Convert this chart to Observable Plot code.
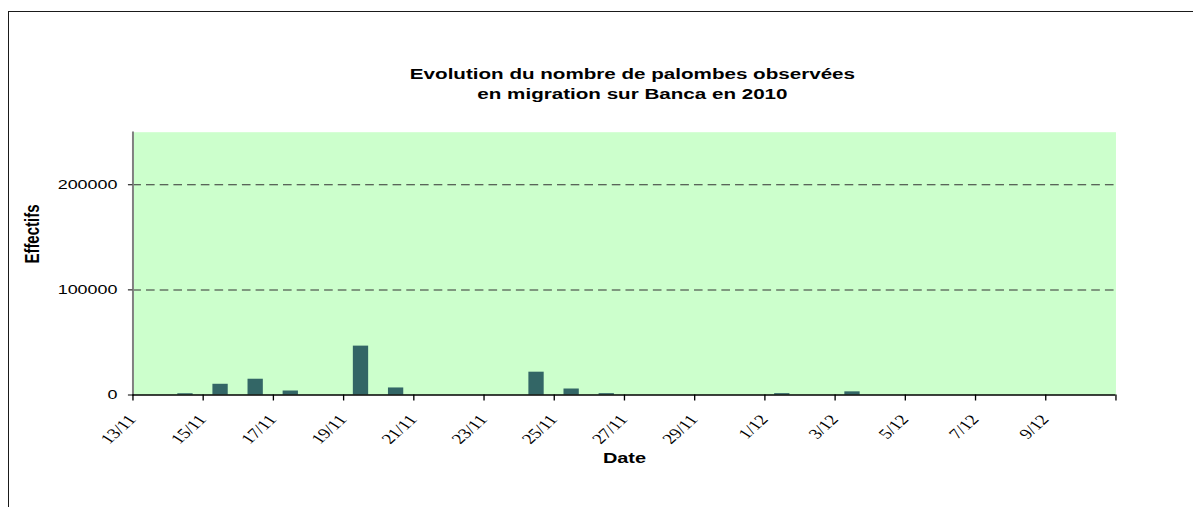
<!DOCTYPE html>
<html><head><meta charset="utf-8">
<script src="https://cdn.jsdelivr.net/npm/d3@7"></script>
<script src="https://cdn.jsdelivr.net/npm/@observablehq/plot@0.6"></script>
<style>
html,body{margin:0;padding:0;background:#fff;}
#wrap{position:relative;width:1193px;height:507px;overflow:hidden;}
#border{position:absolute;left:8px;top:11px;right:-10px;bottom:-10px;border-left:1.5px solid #1a1a1a;border-top:1.5px solid #1a1a1a;}
#chart{position:absolute;left:0;top:0;}
</style></head><body>
<div id="wrap"><div id="border"></div><div id="chart"></div></div>
<script>
// ---- data ----
const titleLines = ["Evolution du nombre de palombes observées", "en migration sur Banca en 2010"];
const xLabel = "Date";
const yLabel = "Effectifs";
const year = 2010;
const days = ["13/11","14/11","15/11","16/11","17/11","18/11","19/11","20/11","21/11","22/11",
              "23/11","24/11","25/11","26/11","27/11","28/11","29/11","30/11","1/12","2/12",
              "3/12","4/12","5/12","6/12","7/12","8/12","9/12","10/12"];
const counts = [0, 1200, 10200, 15000, 3800, 0, 46500, 6700, 0, 0,
                0, 21700, 5700, 1300, 0, 0, 0, 0, 1300, 0,
                3000, 0, 0, 0, 0, 0, 0, 0];
const xTickLabels = ["13/11","15/11","17/11","19/11","21/11","23/11","25/11","27/11","29/11","1/12","3/12","5/12","7/12","9/12"];
const xEnd = "11/12";
const yTicks = [0, 100000, 200000];
const yMax = 250000;

// ---- helpers ----
const parse = s => { const [d, m] = s.split("/").map(Number); return new Date(Date.UTC(year, m - 1, d)); };
const data = days.map((s, i) => ({date: parse(s), value: counts[i]}));
const endDate = parse(xEnd);
const tickDates = [...xTickLabels.map(parse), endDate];
const tickLabelData = xTickLabels.map(s => ({date: parse(s), label: s}));

// horizontal stretch of the original picture
const K = 1.33;
const W = Math.round(1193 / K);
const H = 507;
const mL = 132.3 / K, mR = (1193 - 1115.3) / K;
const bandW = (W - mL - mR) / days.length;
const barW = 15.3 / K;

const chart = Plot.plot({
  width: W,
  height: H,
  marginTop: 131.7,
  marginBottom: H - 394.5,
  marginLeft: mL,
  marginRight: mR,
  style: {fontFamily: "'Liberation Sans', Arial, sans-serif", fontSize: "13.5px", color: "#000", background: "transparent"},
  x: {type: "utc", domain: [data[0].date, endDate]},
  y: {domain: [0, yMax]},
  marks: [
    Plot.frame({fill: "#CCFFCC", stroke: null}),
    Plot.gridY(yTicks.filter(v => v > 0), {stroke: "#333", strokeOpacity: 1, strokeWidth: 1, strokeDasharray: "6.5,3.8"}),
    Plot.rectY(data, {x: "date", y: "value", interval: "day", fill: "#336666",
      insetLeft: (bandW - barW) / 2, insetRight: (bandW - barW) / 2}),
    Plot.frame({anchor: "left", stroke: "#808080", strokeWidth: 1.5}),
    Plot.ruleY([0], {stroke: "#000", strokeWidth: 1.5}),
    Plot.axisY({ticks: yTicks, tickFormat: d => String(d), tickSize: 3.3, tickPadding: 8.3, label: null,
      stroke: "#000", fontSize: 13.5}),
    Plot.axisX({ticks: tickDates, tickFormat: () => "", tickSize: 6, label: null, stroke: "#000"}),
    Plot.text(tickLabelData, {x: "date", text: "label", frameAnchor: "bottom", dx: -0.5, dy: 22,
      rotate: -50, textAnchor: "end", lineAnchor: "middle",
      fontFamily: "'Liberation Serif', 'Times New Roman', serif", fontSize: 14.5, fill: "#000"}),
    Plot.text([xLabel], {frameAnchor: "bottom", dy: 68, fontWeight: "bold", fontSize: 15, fill: "#000"}),
    Plot.text([yLabel], {frameAnchor: "left", dx: 31.7 / K - mL, rotate: -90, fontWeight: "bold", fontSize: 15, fill: "#000"}),
    Plot.text([titleLines.join("\n")], {frameAnchor: "top", dx: 6, dy: -68, lineHeight: 1.3,
      fontWeight: "bold", fontSize: 15.5, fill: "#000"})
  ]
});

chart.setAttribute("width", 1193);
chart.setAttribute("height", H);
chart.setAttribute("preserveAspectRatio", "none");
chart.style.width = "1193px";
chart.style.height = H + "px";
chart.style.maxWidth = "none";
document.getElementById("chart").appendChild(chart);
</script>
</body></html>
